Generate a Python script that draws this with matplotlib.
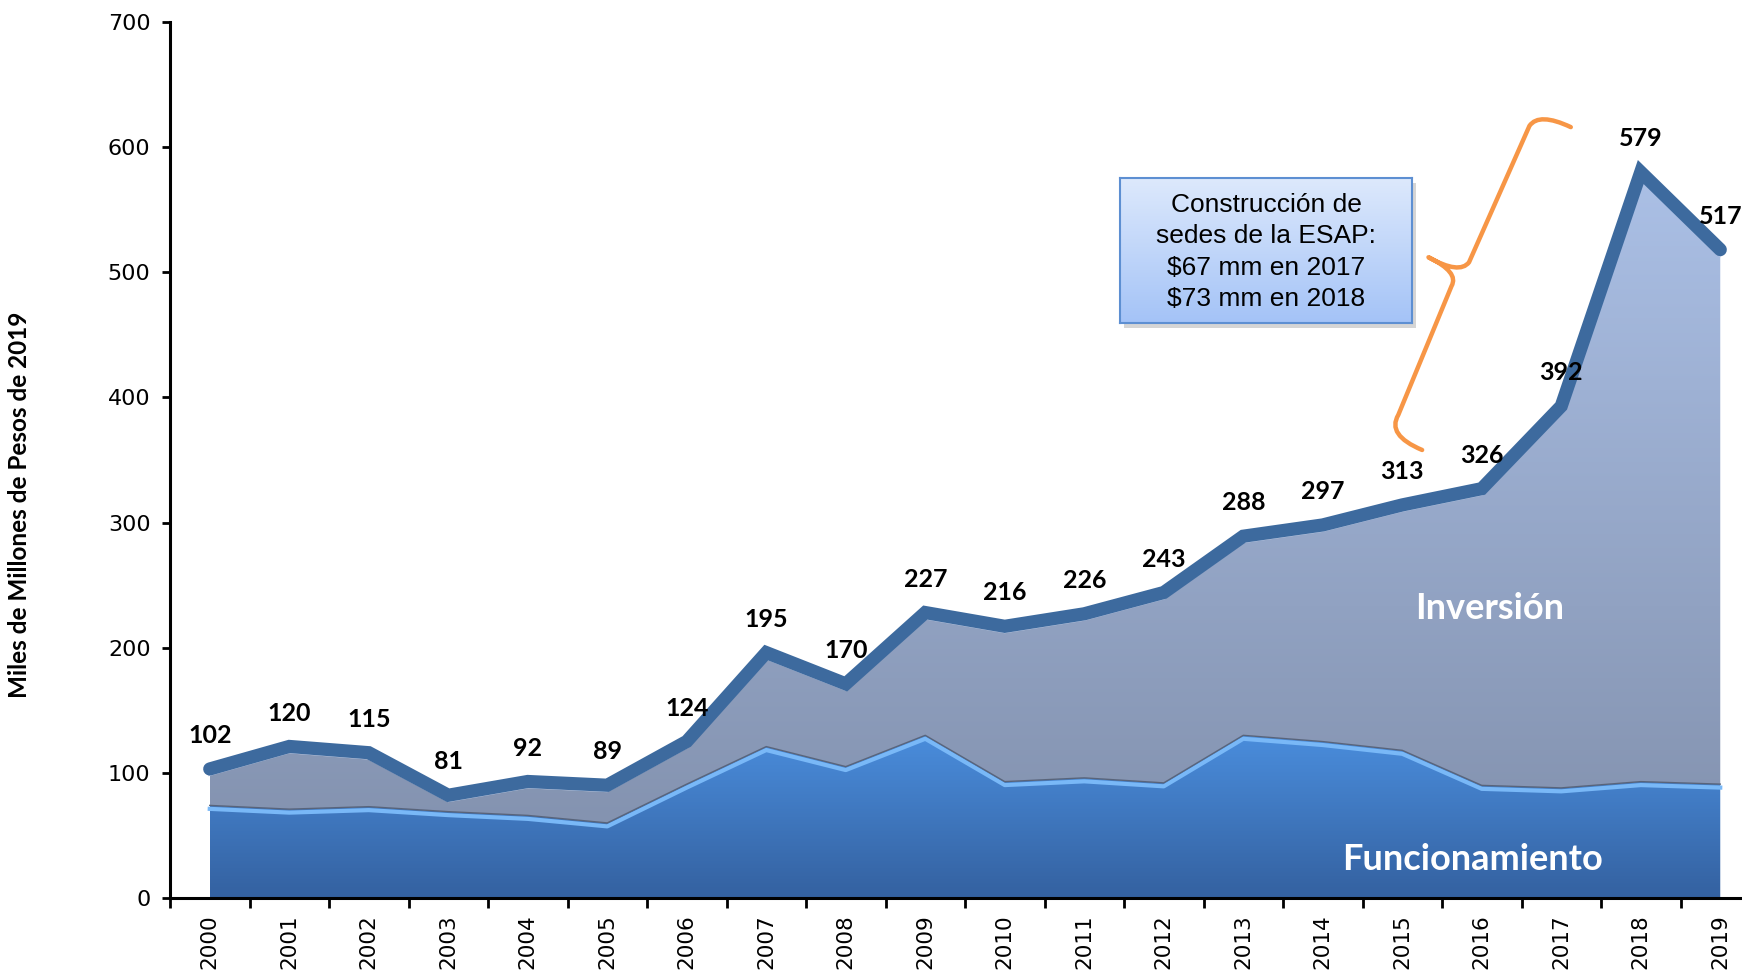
import numpy as np
import matplotlib
matplotlib.use("Agg")
import matplotlib.pyplot as plt
from matplotlib import transforms
from matplotlib.colors import LinearSegmentedColormap
from matplotlib.path import Path
from matplotlib.patches import PathPatch, Rectangle

years = [str(y) for y in range(2000, 2020)]
total = [102, 120, 115, 81, 92, 89, 124, 195, 170, 227, 216, 226, 243, 288, 297, 313, 326, 392, 579, 517]
funcionamiento = [74, 71, 73, 69, 66, 60, 91, 121, 105, 130, 93, 96, 92, 130, 125, 118, 90, 88, 93, 91]

note_lines = ["Construcción de", "sedes de la ESAP:", "$67 mm en 2017", "$73 mm en 2018"]

W, H = 1742, 972
fig = plt.figure(figsize=(W / 100, H / 100), dpi=100)
fig.patch.set_facecolor("white")
ax = fig.add_axes([170 / W, 74 / H, (1760 - 170) / W, (898 - 22) / H])

x = np.arange(len(years))
tot = np.array(total, dtype=float)
fun = np.array(funcionamiento, dtype=float)


def gradient_fill(lower, upper, c_top, c_bottom, z):
    poly = ax.fill_between(x, lower, upper, color="none", lw=0, zorder=z)
    cmap = LinearSegmentedColormap.from_list("g", [c_bottom, c_top])
    grad = np.linspace(0, 1, 256).reshape(-1, 1)
    im = ax.imshow(grad, extent=[x[0], x[-1], float(np.min(lower)), float(np.max(upper))],
                   origin="lower", aspect="auto", cmap=cmap, zorder=z, interpolation="bicubic")
    im.set_clip_path(poly.get_paths()[0], transform=ax.transData)
    return poly


gradient_fill(fun, tot, "#abc0e6", "#8493b0", 1)
gradient_fill(np.zeros_like(fun), fun, "#4a8ddc", "#3461a0", 2)

# bevel edges
down = transforms.offset_copy(ax.transData, fig=fig, y=-2.5, units="points")
ax.plot(x, fun, color="#79b8f7", lw=3, transform=down, zorder=3, solid_joinstyle="round")
ax.plot(x, fun, color="#59647a", lw=1.0, zorder=3.1)
ax.plot(x, tot, color="#c6d2ea", lw=3, transform=down, zorder=3, solid_joinstyle="round")

up = transforms.offset_copy(ax.transData, fig=fig, y=1, units="points")
ax.plot(x, tot, color="#3d6a9e", lw=9.5, transform=up, zorder=4,
        solid_capstyle="round", solid_joinstyle="miter")

for xi, v in zip(x, total):
    ax.annotate(str(v), (xi, v), xytext=(0, 25), textcoords="offset points",
                ha="center", va="center", fontsize=18, fontweight="bold",
                family="Lato", color="black", zorder=5)

ax.text(16.1, 231, "Inversión", ha="center", va="center", color="white",
        fontsize=26, fontweight="bold", family="Lato", zorder=5)
ax.text(15.88, 31, "Funcionamiento", ha="center", va="center", color="white",
        fontsize=26, fontweight="bold", family="Lato", zorder=5)

# orange brace
verts = [(17.12, 616), (16.72, 628), (16.60, 617),
         (15.84, 508), (15.72, 498), (15.33, 512),
         (15.72, 500), (15.62, 489),
         (14.95, 386), (14.80, 370), (15.25, 358)]
codes = [Path.MOVETO, Path.CURVE3, Path.CURVE3,
         Path.LINETO, Path.CURVE3, Path.CURVE3,
         Path.CURVE3, Path.CURVE3,
         Path.LINETO, Path.CURVE3, Path.CURVE3]
ax.add_patch(PathPatch(Path(verts, codes), fill=False, edgecolor="#f79646",
                       lw=3.2, capstyle="round", joinstyle="round", zorder=6))

ax.set_xlim(-0.5, 19.5)
ax.set_ylim(0, 700)
ax.set_yticks(np.arange(0, 701, 100))
ax.tick_params(axis="y", labelsize=16, length=6, width=2, pad=8, direction="out")
ax.set_xticks(x)
ax.set_xticklabels(years, rotation=90)
ax.set_xticks(np.arange(-0.5, 19.6, 1), minor=True)
ax.tick_params(axis="x", which="major", labelsize=15.5, length=0, pad=12)
ax.tick_params(axis="x", which="minor", length=7, width=2, direction="out")
for s in ["top", "right"]:
    ax.spines[s].set_visible(False)
for s in ["left", "bottom"]:
    ax.spines[s].set_linewidth(2.2)
ax.spines["left"].set_zorder(7)

fig.text(20 / W, 1 - 505 / H, "Miles de Millones de Pesos de 2019", rotation=90,
         ha="center", va="center", fontsize=17.5, fontweight="bold", family="Lato")

# note box with gradient and shadow
bx0, by0, bw, bh = 1120, 178, 292, 145
fig.patches.append(Rectangle(((bx0 + 4) / W, 1 - (by0 + bh + 5) / H), bw / W, bh / H,
                             transform=fig.transFigure, facecolor="#b9b9b9", edgecolor="none",
                             alpha=0.6, zorder=8))
bax = fig.add_axes([bx0 / W, 1 - (by0 + bh) / H, bw / W, bh / H], zorder=9)
bcmap = LinearSegmentedColormap.from_list("b", ["#a4c3f7", "#dde9fc"])
bax.imshow(np.linspace(0, 1, 256).reshape(-1, 1), origin="lower", aspect="auto",
           cmap=bcmap, extent=[0, 1, 0, 1])
bax.set_xticks([])
bax.set_yticks([])
for sp in bax.spines.values():
    sp.set_color("#5d8fd2")
    sp.set_linewidth(1.5)
bax.text(0.5, 0.49, "\n".join(note_lines), ha="center", va="center", fontsize=19,
         family="Liberation Sans", linespacing=1.38, transform=bax.transAxes)

fig.savefig("out.png", dpi=100, facecolor="white")
